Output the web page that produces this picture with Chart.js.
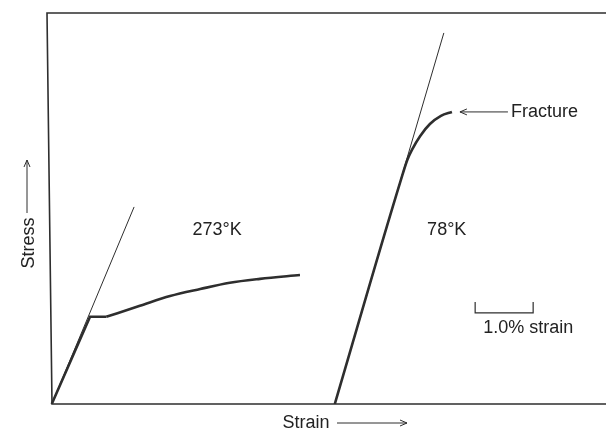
<!DOCTYPE html>
<html>
<head>
<meta charset="utf-8">
<script src="https://cdn.jsdelivr.net/npm/chart.js@4.4.1/dist/chart.umd.min.js"></script>
<style>
  html, body { margin: 0; padding: 0; background: #fff; }
  #wrap { width: 606px; height: 433px; position: relative; }
</style>
</head>
<body>
<div id="wrap"><canvas id="stressStrain"></canvas></div>
<script>
// strain in %, stress in arbitrary units
const strain273Elastic = [0.03, 0.69, 0.97];
const stress273Elastic = [0, 22.3, 22.3];
const strain273Plastic = [0.97, 1.55, 2.07, 2.59, 3.10, 3.62, 4.31];
const stress273Plastic = [22.3, 25.1, 27.6, 29.4, 31.0, 32.0, 33.0];
const strain273Tangent = [0.03, 1.45];
const stress273Tangent = [0, 50.4];

const strain78 = [4.91, 6.05, 6.16, 6.24, 6.38, 6.55, 6.74, 6.93];
const stress78 = [0, 57.3, 62.4, 65.0, 68.5, 71.6, 73.7, 74.7];
const strain78Tangent = [4.91, 6.79];
const stress78Tangent = [0, 94.9];

// scale bar = 1.0 % strain
const barStrain = [7.33, 7.33, 8.33, 8.33];
const barStress = [26.1, 23.3, 23.3, 26.1];

const lineCol = "#2e2e2e";
const textCol = "#222";
const font = "18px 'Liberation Sans', Arial, sans-serif";

function pts(xs, ys) {
  return xs.map((x, i) => ({ x: x, y: ys[i] }));
}

function line(data, width, mode) {
  return {
    data: data,
    borderColor: lineCol,
    borderWidth: width,
    pointRadius: 0,
    fill: false,
    tension: mode ? 0.4 : 0,
    cubicInterpolationMode: mode || "default"
  };
}

// frame, labels and arrows
const annotations = {
  id: "annotations",
  beforeDatasetsDraw(chart) {
    const ctx = chart.ctx;
    const a = chart.chartArea;
    ctx.save();
    ctx.strokeStyle = lineCol;
    ctx.lineWidth = 1.6;
    ctx.beginPath();
    ctx.moveTo(a.right, a.top);
    ctx.lineTo(a.left - 3, a.top);
    ctx.lineTo(a.left + 2, a.bottom);
    ctx.lineTo(a.right, a.bottom);
    ctx.stroke();
    ctx.restore();
  },
  afterDatasetsDraw(chart) {
    const ctx = chart.ctx;
    const a = chart.chartArea;
    const xs = chart.scales.x;
    const ys = chart.scales.y;
    ctx.save();
    ctx.fillStyle = textCol;
    ctx.strokeStyle = lineCol;
    ctx.font = font;
    ctx.textBaseline = "middle";

    // curve labels
    ctx.textAlign = "center";
    ctx.fillText("273°K", xs.getPixelForValue(2.88), ys.getPixelForValue(44.5));
    ctx.fillText("78°K", xs.getPixelForValue(6.84), ys.getPixelForValue(44.5));

    // fracture arrow
    const fx = xs.getPixelForValue(strain78[strain78.length - 1]) + 8;
    const fy = ys.getPixelForValue(stress78[stress78.length - 1]);
    ctx.lineWidth = 1;
    ctx.beginPath();
    ctx.moveTo(fx, fy);
    ctx.lineTo(fx + 48, fy);
    ctx.moveTo(fx + 7, fy - 3);
    ctx.lineTo(fx, fy);
    ctx.lineTo(fx + 7, fy + 3);
    ctx.stroke();
    ctx.textAlign = "left";
    ctx.fillText("Fracture", fx + 51, fy);

    // scale bar label
    ctx.fillText("1.0% strain", xs.getPixelForValue(7.47), ys.getPixelForValue(19.4));

    // axis titles
    const sx = a.left - 21;
    const sy = 243;
    ctx.save();
    ctx.translate(sx, sy);
    ctx.rotate(-Math.PI / 2);
    ctx.textAlign = "center";
    ctx.fillText("Stress", 0, 0);
    ctx.restore();
    ctx.beginPath();
    ctx.moveTo(sx - 2, sy - 30);
    ctx.lineTo(sx - 2, sy - 83);
    ctx.moveTo(sx - 5, sy - 76);
    ctx.lineTo(sx - 2, sy - 83);
    ctx.lineTo(sx + 1, sy - 76);
    ctx.stroke();

    const tx = 306;
    const ty = a.bottom + 19;
    ctx.textAlign = "center";
    ctx.fillText("Strain", tx, ty);
    ctx.beginPath();
    ctx.moveTo(tx + 31, ty);
    ctx.lineTo(tx + 101, ty);
    ctx.moveTo(tx + 94, ty - 3);
    ctx.lineTo(tx + 101, ty);
    ctx.lineTo(tx + 94, ty + 3);
    ctx.stroke();
    ctx.restore();
  }
};

new Chart(document.getElementById("stressStrain"), {
  type: "line",
  data: {
    datasets: [
      line(pts(strain273Elastic, stress273Elastic), 2.6),
      line(pts(strain273Plastic, stress273Plastic), 2.6, "monotone"),
      line(pts(strain273Tangent, stress273Tangent), 1),
      line(pts(strain78, stress78), 2.6, "monotone"),
      line(pts(strain78Tangent, stress78Tangent), 1),
      line(pts(barStrain, barStress), 1.2)
    ]
  },
  options: {
    responsive: true,
    maintainAspectRatio: false,
    animation: false,
    devicePixelRatio: 1,
    layout: { padding: { left: 50, top: 13, right: 0, bottom: 29 } },
    plugins: { legend: { display: false }, tooltip: { enabled: false } },
    scales: {
      x: { type: "linear", min: 0, max: 9.586, display: false },
      y: { type: "linear", min: 0, max: 100, display: false }
    }
  },
  plugins: [annotations]
});
</script>
</body>
</html>
